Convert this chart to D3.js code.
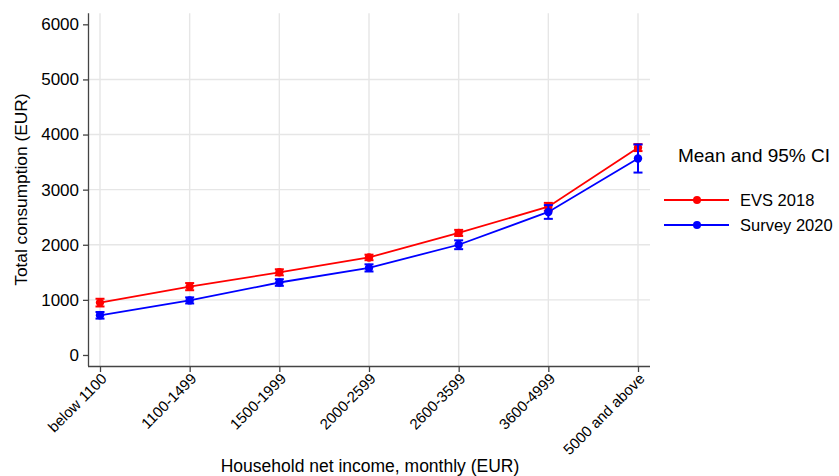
<!DOCTYPE html>
<html>
<head>
<meta charset="utf-8">
<script src="https://cdn.jsdelivr.net/npm/d3@7/dist/d3.min.js"></script>
<style>
  html, body { margin: 0; padding: 0; background: #fff; }
  svg { display: block; font-family: "Liberation Sans", Arial, Helvetica, sans-serif; }
</style>
</head>
<body>
<svg id="chart" width="839" height="476"></svg>
<script>
// Income brackets (x categories)
const categories = ["below 1100", "1100-1499", "1500-1999", "2000-2599", "2600-3599", "3600-4999", "5000 and above"];

// EVS 2018: mean consumption and 95% CI bounds
const evsMean = [950, 1240, 1500, 1770, 2215, 2690, 3760];
const evsLow  = [880, 1175, 1445, 1720, 2160, 2620, 3700];
const evsHigh = [1020, 1305, 1555, 1820, 2270, 2760, 3825];

// Survey 2020: mean consumption and 95% CI bounds
const surveyMean = [720, 990, 1315, 1580, 2000, 2595, 3565];
const surveyLow  = [660, 935, 1255, 1515, 1920, 2470, 3310];
const surveyHigh = [780, 1045, 1375, 1645, 2080, 2720, 3820];

const yTicks = [0, 1000, 2000, 3000, 4000, 5000, 6000];
const yGridTicks = [1000, 2000, 3000, 4000, 5000];

const series = [
  { name: "EVS 2018", color: "#ff0000", mean: evsMean, low: evsLow, high: evsHigh },
  { name: "Survey 2020", color: "#0000ff", mean: surveyMean, low: surveyLow, high: surveyHigh }
];

const svg = d3.select("#chart");
const W = 839, H = 476;
svg.append("rect").attr("width", W).attr("height", H).attr("fill", "#fff");

const plot = { left: 89, right: 650, top: 13.3, bottom: 366 };

const x = d3.scalePoint().domain(categories).range([100, 638]).padding(0);
const y = d3.scaleLinear().domain([-200, 6200]).range([plot.bottom, plot.top]);

// Gridlines
const grid = svg.append("g").attr("stroke", "#e6e6e6").attr("stroke-width", 1.4);
grid.selectAll("line.h").data(yGridTicks).join("line")
  .attr("x1", plot.left).attr("x2", plot.right)
  .attr("y1", d => y(d)).attr("y2", d => y(d));
grid.selectAll("line.v").data(categories).join("line")
  .attr("x1", d => x(d)).attr("x2", d => x(d))
  .attr("y1", plot.top).attr("y2", plot.bottom);

// Y axis
const yAxis = svg.append("g").attr("transform", `translate(${plot.left},0)`)
  .call(d3.axisLeft(y).tickValues(yTicks).tickSize(6).tickPadding(4).tickFormat(d3.format("d")));
yAxis.select(".domain").attr("d", `M-0.5,${plot.top}V${plot.bottom}`).attr("stroke", "#444").attr("stroke-width", 1.3);
yAxis.selectAll(".tick line").attr("stroke", "#444").attr("stroke-width", 1.3);
yAxis.selectAll(".tick text").attr("font-size", 17).attr("fill", "#000")
  .attr("font-family", "Liberation Sans, Arial, sans-serif");

// X axis
const xAxis = svg.append("g").attr("transform", `translate(0,${plot.bottom})`)
  .call(d3.axisBottom(x).tickSize(6).tickFormat(""));
xAxis.select(".domain").attr("d", `M${plot.left - 1},0.5H${plot.right}`).attr("stroke", "#444").attr("stroke-width", 1.3);
xAxis.selectAll(".tick line").attr("stroke", "#444").attr("stroke-width", 1.3);

svg.append("g").selectAll("text").data(categories).join("text")
  .attr("transform", d => `translate(${x(d) + 4},${plot.bottom + 10}) rotate(-45)`)
  .attr("text-anchor", "end")
  .attr("dy", "0.35em")
  .attr("font-size", 15)
  .attr("fill", "#000")
  .text(d => d);

// Axis titles
svg.append("text")
  .attr("transform", `translate(27,${(y(0) + y(6000)) / 2}) rotate(-90)`)
  .attr("text-anchor", "middle")
  .attr("font-size", 17.3)
  .attr("fill", "#000")
  .text("Total consumption (EUR)");

svg.append("text")
  .attr("x", 370).attr("y", 472)
  .attr("text-anchor", "middle")
  .attr("font-size", 17.5)
  .attr("fill", "#000")
  .text("Household net income, monthly (EUR)");

// Series: error bars, lines, markers
const line = d3.line().x((d, i) => x(categories[i])).y(d => y(d));
const capHalf = 4.5;

series.forEach(s => {
  const g = svg.append("g");
  const idx = d3.range(categories.length);
  g.selectAll("line.ci").data(idx).join("line")
    .attr("x1", i => x(categories[i])).attr("x2", i => x(categories[i]))
    .attr("y1", i => y(s.low[i])).attr("y2", i => y(s.high[i]))
    .attr("stroke", s.color).attr("stroke-width", 2);
  ["low", "high"].forEach(k => {
    g.selectAll(`line.cap-${k}`).data(idx).join("line")
      .attr("x1", i => x(categories[i]) - capHalf).attr("x2", i => x(categories[i]) + capHalf)
      .attr("y1", i => y(s[k][i])).attr("y2", i => y(s[k][i]))
      .attr("stroke", s.color).attr("stroke-width", 2);
  });
  g.append("path").datum(s.mean).attr("d", line)
    .attr("fill", "none").attr("stroke", s.color).attr("stroke-width", 1.8);
  g.selectAll("circle").data(s.mean).join("circle")
    .attr("cx", (d, i) => x(categories[i])).attr("cy", d => y(d))
    .attr("r", 4.2).attr("fill", s.color);
});

// Legend
const legend = svg.append("g");
legend.append("text")
  .attr("x", 754).attr("y", 162)
  .attr("text-anchor", "middle")
  .attr("font-size", 19)
  .attr("fill", "#000")
  .text("Mean and 95% CI");
series.forEach((s, k) => {
  const ly = 200 + k * 25;
  legend.append("line").attr("x1", 664).attr("x2", 729).attr("y1", ly).attr("y2", ly)
    .attr("stroke", s.color).attr("stroke-width", 1.8);
  legend.append("circle").attr("cx", 697).attr("cy", ly).attr("r", 4).attr("fill", s.color);
  legend.append("text").attr("x", 740).attr("y", ly).attr("dy", "0.35em")
    .attr("font-size", 16.5).attr("fill", "#000").text(s.name);
});
</script>
</body>
</html>
